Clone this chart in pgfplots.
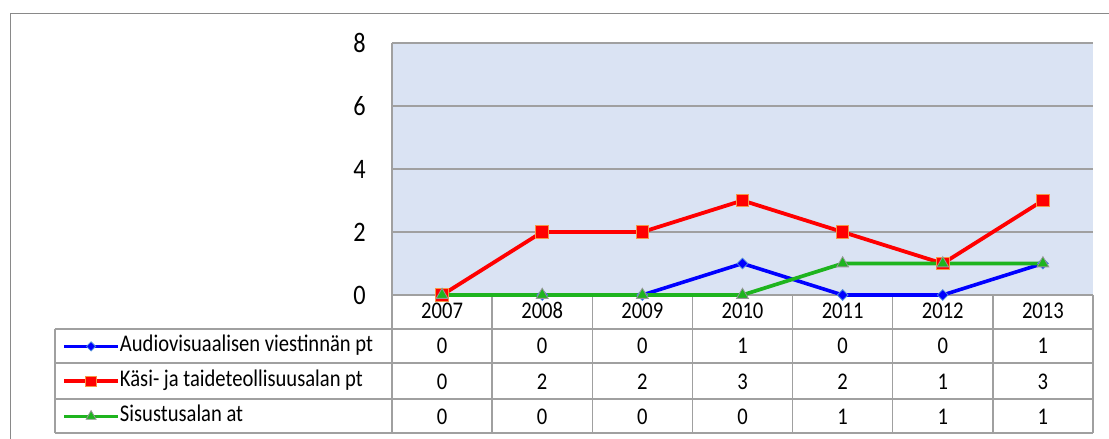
\documentclass[border=0pt]{standalone}
\usepackage{pgfplots}
\pgfplotsset{compat=1.18}
\usepackage{pgfplotstable}
\usepackage{graphicx}
\usepackage{fontspec}
\setmainfont{Carlito}
\newcommand\vs[1]{\scalebox{1}[1.16]{#1}}
\newcommand\tabfont{\fontsize{20.6pt}{24pt}\selectfont}
\newcommand\tickfont{\fontsize{24.3pt}{28pt}\selectfont}
\definecolor{plotbg}{RGB}{218,227,243}
\definecolor{gridgray}{RGB}{160,160,160}
\definecolor{framegray}{RGB}{137,137,137}
\definecolor{sblue}{RGB}{0,0,255}
\definecolor{sred}{RGB}{255,0,0}
\definecolor{sgreen}{RGB}{30,180,30}
\definecolor{redge}{RGB}{247,150,70}
\definecolor{bedge}{RGB}{79,140,220}
\definecolor{gedge}{RGB}{150,150,150}

\pgfplotstableread{
x year a b c
0 2007 0 0 0
1 2008 0 2 0
2 2009 0 2 0
3 2010 1 3 0
4 2011 0 2 1
5 2012 0 1 1
6 2013 1 3 1
}\datatable

\begin{document}
\begin{tikzpicture}[x=1pt,y=1pt]
\path[use as bounding box, fill=white] (0,0) rectangle (1109,439);
\draw[framegray, line width=1.5pt] (10.5,0) -- (10.5,425.5) -- (1109,425.5);
\begin{axis}[
  at={(392pt,144pt)}, anchor=south west,
  scale only axis, width=701pt, height=252pt,
  xmin=-0.5, xmax=6.5, ymin=0, ymax=8,
  clip=false,
  axis background/.style={fill=plotbg},
  axis line style={draw=none},
  /pgf/number format/assume math mode=true,
  ytick={0,2,4,6,8},
  yticklabel={\vs{\pgfmathprintnumber{\tick}}},
  yticklabel style={font=\tickfont, anchor=east, inner sep=0pt, xshift=-26pt},
  xtick={0,1,2,3,4,5,6},
  xticklabels={\vs{2007},\vs{2008},\vs{2009},\vs{2010},\vs{2011},\vs{2012},\vs{2013}},
  xticklabel style={font=\tabfont, anchor=center, inner sep=0pt, yshift=-15.8pt},
  major tick length=0pt,
  ymajorgrids,
  grid style={gridgray, line width=1.3pt},
  legend cell align=left,
  legend style={at={(-0.47076,-0.1615)}, anchor=north west, draw=none, fill=none,
    inner sep=0pt, row sep=14pt, column sep=0pt,
    nodes={inner sep=0pt, text height=16pt, text depth=5pt, font=\tabfont}},
  legend image code/.code={\draw[mark repeat=2, mark phase=2, #1, every mark/.append style={scale=0.85}] plot coordinates {(0pt,0pt) (27pt,0pt) (54pt,0pt)};},
]
% table grid
\draw[gridgray, line width=1.3pt]
  (-0.5,8) -- (-0.5,-4.381)
  (-0.5,0) -- (6.5,0)
  (-3.8652,-1.0794) -- (6.5,-1.0794)
  (-3.8652,-2.1587) -- (6.5,-2.1587)
  (-3.8652,-3.3016) -- (6.5,-3.3016)
  (-3.8652,-4.381) -- (6.5,-4.381)
  (-3.8652,-1.0794) -- (-3.8652,-4.381)
  (0.5,0) -- (0.5,-4.381)
  (1.5,0) -- (1.5,-4.381)
  (2.5,0) -- (2.5,-4.381)
  (3.5,0) -- (3.5,-4.381)
  (4.5,0) -- (4.5,-4.381)
  (5.5,0) -- (5.5,-4.381)
  (6.5,0) -- (6.5,-4.381);

\addplot[sblue, line width=3.6pt, mark=square*, mark size=3.8pt,
  mark options={rotate=45, fill=sblue, draw=bedge, line width=0.8pt}]
  table[x=x, y=a]{\datatable};
\addlegendentry{\vs{Audiovisuaalisen viestinnän pt}}
\addplot[sred, line width=3.8pt, mark=square*, mark size=6.3pt,
  mark options={fill=sred, draw=redge, line width=1pt}]
  table[x=x, y=b]{\datatable};
\addlegendentry{\vs{Käsi- ja taideteollisuusalan pt}}
\addplot[sgreen, line width=3.7pt, mark=triangle*, mark size=6.8pt,
  mark options={fill=sgreen, draw=gedge, line width=0.8pt}]
  table[x=x, y=c]{\datatable};
\addlegendentry{\vs{Sisustusalan at}}

% data table values
\addplot[forget plot, draw=none, mark=none, point meta=explicit,
  nodes near coords={\vs{\pgfmathprintnumber\pgfplotspointmeta}},
  every node near coord/.append style={anchor=center, inner sep=0pt, font=\tabfont}]
  table[x=x, y expr=-1.629, meta=a]{\datatable};
\addplot[forget plot, draw=none, mark=none, point meta=explicit,
  nodes near coords={\vs{\pgfmathprintnumber\pgfplotspointmeta}},
  every node near coord/.append style={anchor=center, inner sep=0pt, font=\tabfont}]
  table[x=x, y expr=-2.752, meta=b]{\datatable};
\addplot[forget plot, draw=none, mark=none, point meta=explicit,
  nodes near coords={\vs{\pgfmathprintnumber\pgfplotspointmeta}},
  every node near coord/.append style={anchor=center, inner sep=0pt, font=\tabfont}]
  table[x=x, y expr=-3.863, meta=c]{\datatable};
\end{axis}
\end{tikzpicture}
\end{document}
